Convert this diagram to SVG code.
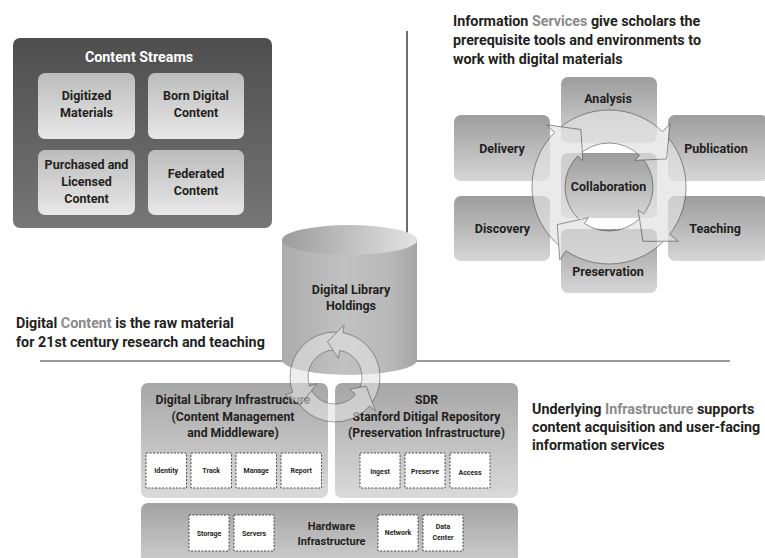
<svg xmlns="http://www.w3.org/2000/svg" width="765" height="558" viewBox="0 0 765 558">
<defs>
  <linearGradient id="gDark" x1="0" y1="0" x2="0" y2="1"><stop offset="0" stop-color="#4e4e4e"/><stop offset="1" stop-color="#767676"/></linearGradient>
  <linearGradient id="gInner" x1="0" y1="0" x2="0" y2="1"><stop offset="0" stop-color="#bcbcbc"/><stop offset="1" stop-color="#e8e8e8"/></linearGradient>
  <linearGradient id="gBox" x1="0" y1="0" x2="0" y2="1"><stop offset="0" stop-color="#9d9d9d"/><stop offset="1" stop-color="#d6d6d6"/></linearGradient>
  <linearGradient id="gInfra" x1="0" y1="0" x2="0" y2="1"><stop offset="0" stop-color="#a6a6a6"/><stop offset="1" stop-color="#dadada"/></linearGradient>
  <linearGradient id="gHw" x1="0" y1="0" x2="0" y2="1"><stop offset="0" stop-color="#a3a3a3"/><stop offset="1" stop-color="#d0d0d0"/></linearGradient>
  <linearGradient id="gCylBody" x1="0" y1="0" x2="1" y2="0"><stop offset="0" stop-color="#acacac"/><stop offset="0.45" stop-color="#c1c1c1"/><stop offset="0.8" stop-color="#b9b9b9"/><stop offset="1" stop-color="#a5a5a5"/></linearGradient>
  <linearGradient id="gCylTop" x1="0" y1="0" x2="1" y2="0"><stop offset="0" stop-color="#9c9c9c"/><stop offset="1" stop-color="#e3e3e3"/></linearGradient>
  <style>
    .t { font-family: Roboto, "Liberation Sans", sans-serif; font-weight: bold; fill: #231f20; text-anchor: middle; }
    .cap { font-family: Roboto, "Liberation Sans", sans-serif; font-weight: bold; fill: #231f20; font-size: 14.3px; }
    .hl { fill: #8a8a8a; }
    .f13 { font-size: 12.5px; }
    .f12 { font-size: 12.2px; }
    .sm { font-size: 7px; }
    .dash { fill: #ffffff; stroke: #3a3a3a; stroke-width: 0.9; stroke-dasharray: 2 1.5; }
    .ib { fill: url(#gInner); }
    .rb { fill: url(#gBox); }
    .ringfill { fill: #e2e2e2; stroke: none; }
    .ringline { fill: none; stroke: #555555; stroke-width: 0.9; stroke-linejoin: miter; }
  </style>
</defs>

<g id="dividers">
  <line x1="407" y1="31" x2="407" y2="236" stroke="#6e6e6e" stroke-width="2"/>
  <line x1="40" y1="361" x2="730" y2="361" stroke="#777777" stroke-width="1.5"/>
</g>

<g id="content-streams">
  <rect x="13" y="38" width="259" height="190" rx="7" fill="url(#gDark)"/>
  <text class="t" x="139" y="62" font-size="14.3" style="fill:#ffffff">Content Streams</text>
  <g id="digitized">
    <rect class="ib" x="38" y="73" width="97" height="66" rx="7"/>
    <text class="t f13" x="86.5" y="100">Digitized</text>
    <text class="t f13" x="86.5" y="117">Materials</text>
  </g>
  <g id="born-digital">
    <rect class="ib" x="148" y="73" width="96" height="66" rx="7"/>
    <text class="t f13" x="196" y="100">Born Digital</text>
    <text class="t f13" x="196" y="117">Content</text>
  </g>
  <g id="purchased">
    <rect class="ib" x="38" y="150" width="97" height="65" rx="7"/>
    <text class="t f13" x="86.5" y="169">Purchased and</text>
    <text class="t f13" x="86.5" y="186">Licensed</text>
    <text class="t f13" x="86.5" y="203">Content</text>
  </g>
  <g id="federated">
    <rect class="ib" x="148" y="150" width="96" height="65" rx="7"/>
    <text class="t f13" x="196" y="178">Federated</text>
    <text class="t f13" x="196" y="195">Content</text>
  </g>
</g>

<g id="caption-services">
  <text class="cap" x="453" y="26">Information <tspan class="hl">Services</tspan> give scholars the</text>
  <text class="cap" x="453" y="45">prerequisite tools and environments to</text>
  <text class="cap" x="453" y="64">work with digital materials</text>
</g>

<g id="analysis"><rect class="rb" x="561" y="77" width="96" height="66" rx="7"/><text class="t f13" x="608" y="103">Analysis</text></g>
<g id="delivery"><rect class="rb" x="454" y="115" width="96" height="66" rx="7"/><text class="t f13" x="502" y="153">Delivery</text></g>
<g id="publication"><rect class="rb" x="668" y="115" width="100" height="66" rx="7"/><text class="t f13" x="716" y="153">Publication</text></g>
<g id="collaboration"><rect class="rb" x="561" y="153" width="96" height="65" rx="7"/><text class="t f13" x="608.5" y="191">Collaboration</text></g>
<g id="discovery"><rect class="rb" x="454" y="196" width="96" height="65" rx="7"/><text class="t f13" x="502.5" y="233">Discovery</text></g>
<g id="teaching"><rect class="rb" x="668" y="196" width="100" height="65" rx="7"/><text class="t f13" x="715" y="233">Teaching</text></g>
<g id="preservation"><rect class="rb" x="561" y="229" width="96" height="64" rx="7"/><text class="t f13" x="608" y="276">Preservation</text></g>

<g id="caption-content">
  <text class="cap" x="16" y="328">Digital <tspan class="hl">Content</tspan> is the raw material</text>
  <text class="cap" x="16" y="347">for 21st century research and teaching</text>
</g>

<g id="holdings">
  <path d="M282,240 L282,360 A67.5,15 0 0 0 417,360 L417,240 Z" fill="url(#gCylBody)"/>
  <ellipse cx="349.5" cy="240" rx="67.5" ry="15" fill="url(#gCylTop)"/>
  <text class="t f13" x="351" y="294">Digital Library</text>
  <text class="t f13" x="351" y="310">Holdings</text>
</g>

<g id="dli">
  <rect x="141" y="383" width="187" height="115" rx="7" fill="url(#gInfra)"/>
  <text class="t f12" x="233" y="404">Digital Library Infrastructure</text>
  <text class="t f12" x="233" y="420.5">(Content Management</text>
  <text class="t f12" x="233" y="437">and Middleware)</text>
  <g id="identity"><rect class="dash" x="146" y="453" width="40.5" height="35"/><text class="t sm" x="166.2" y="473">Identity</text></g>
  <g id="track"><rect class="dash" x="191" y="453" width="40.5" height="35"/><text class="t sm" x="211.2" y="473">Track</text></g>
  <g id="manage"><rect class="dash" x="236" y="453" width="40.5" height="35"/><text class="t sm" x="256.2" y="473">Manage</text></g>
  <g id="report"><rect class="dash" x="281" y="453" width="40.5" height="35"/><text class="t sm" x="301.2" y="473">Report</text></g>
</g>

<g id="sdr">
  <rect x="335" y="383" width="183" height="115" rx="7" fill="url(#gInfra)"/>
  <text class="t f12" x="426.5" y="404">SDR</text>
  <text class="t f12" x="426.5" y="420.5">Stanford Ditigal Repository</text>
  <text class="t f12" x="426.5" y="437">(Preservation Infrastructure)</text>
  <g id="ingest"><rect class="dash" x="360" y="453" width="40" height="35"/><text class="t sm" x="380" y="474">Ingest</text></g>
  <g id="preserve"><rect class="dash" x="405" y="453" width="40" height="35"/><text class="t sm" x="425" y="474">Preserve</text></g>
  <g id="access"><rect class="dash" x="450" y="453" width="40" height="35"/><text class="t sm" x="470" y="475">Access</text></g>
</g>

<g id="hardware">
  <rect x="141" y="503" width="377" height="65" rx="7" fill="url(#gHw)"/>
  <text class="t" font-size="11" x="331.5" y="530">Hardware</text>
  <text class="t" font-size="11" x="331.5" y="545">Infrastructure</text>
  <g id="storage"><rect class="dash" x="189" y="515" width="40" height="36"/><text class="t sm" x="209" y="536">Storage</text></g>
  <g id="servers"><rect class="dash" x="234" y="515" width="40" height="36"/><text class="t sm" x="254" y="536">Servers</text></g>
  <g id="network"><rect class="dash" x="378" y="515" width="40" height="36"/><text class="t sm" x="398" y="535">Network</text></g>
  <g id="datacenter"><rect class="dash" x="423" y="515" width="40" height="36"/><text class="t sm" x="443" y="529">Data</text><text class="t sm" x="443" y="540">Center</text></g>
</g>

<g id="caption-infra">
  <text class="cap" x="532" y="414">Underlying <tspan class="hl">Infrastructure</tspan> supports</text>
  <text class="cap" x="532" y="432">content acquisition and user-facing</text>
  <text class="cap" x="532" y="450">information services</text>
</g>

<g id="connectors">
  <g id="services-cycle" opacity="0.7">
    <path class="ringfill" fill-rule="evenodd" d="M686,187 A77,77 0 1 0 532,187 A77,77 0 1 0 686,187 Z M653,187 A44,44 0 1 1 565,187 A44,44 0 1 1 653,187 Z"/>
    <circle class="ringline" cx="609" cy="187" r="77"/>
    <circle class="ringline" cx="609" cy="187" r="44"/>
    <polygon class="ringfill" points="554.6,132.6 546.8,124.8 580.9,129.5 582.8,160.8 577.9,155.9"/>
    <polyline class="ringline" points="554.6,132.6 546.8,124.8 580.9,129.5 582.8,160.8 577.9,155.9"/>
    <polygon class="ringfill" points="662.5,131.6 670.1,123.7 666.5,159.0 634.7,160.4 639.6,155.4"/>
    <polyline class="ringline" points="662.5,131.6 670.1,123.7 666.5,159.0 634.7,160.4 639.6,155.4"/>
    <polygon class="ringfill" points="669.7,234.4 678.3,241.2 642.9,241.3 638.2,209.8 643.7,214.1"/>
    <polyline class="ringline" points="669.7,234.4 678.3,241.2 642.9,241.3 638.2,209.8 643.7,214.1"/>
    <polygon class="ringfill" points="565.9,250.8 559.8,260.0 557.2,224.6 588.3,217.7 584.4,223.5"/>
    <polyline class="ringline" points="565.9,250.8 559.8,260.0 557.2,224.6 588.3,217.7 584.4,223.5"/>
  </g>
  <g id="holdings-cycle" opacity="0.6">
    <path class="ringfill" fill-rule="evenodd" d="M380,377 A45,45 0 1 0 290,377 A45,45 0 1 0 380,377 Z M362,377 A27,27 0 1 1 308,377 A27,27 0 1 1 362,377 Z"/>
    <circle class="ringline" cx="335" cy="377" r="45"/>
    <circle class="ringline" cx="335" cy="377" r="27"/>
    <polygon class="ringfill" points="342.8,332.7 344.2,324.8 327.5,341.8 338.3,358.3 339.7,350.4"/>
    <polyline class="ringline" points="342.8,332.7 344.2,324.8 327.5,341.8 338.3,358.3 339.7,350.4"/>
    <polygon class="ringfill" points="369.5,405.9 375.6,411.1 366.2,386.1 349.6,389.2 355.7,394.4"/>
    <polyline class="ringline" points="369.5,405.9 375.6,411.1 366.2,386.1 349.6,389.2 355.7,394.4"/>
    <polygon class="ringfill" points="292.7,392.4 285.2,395.1 300.2,405.1 317.1,383.5 309.6,386.2"/>
    <polyline class="ringline" points="292.7,392.4 285.2,395.1 300.2,405.1 317.1,383.5 309.6,386.2"/>
  </g>
</g>
</svg>
